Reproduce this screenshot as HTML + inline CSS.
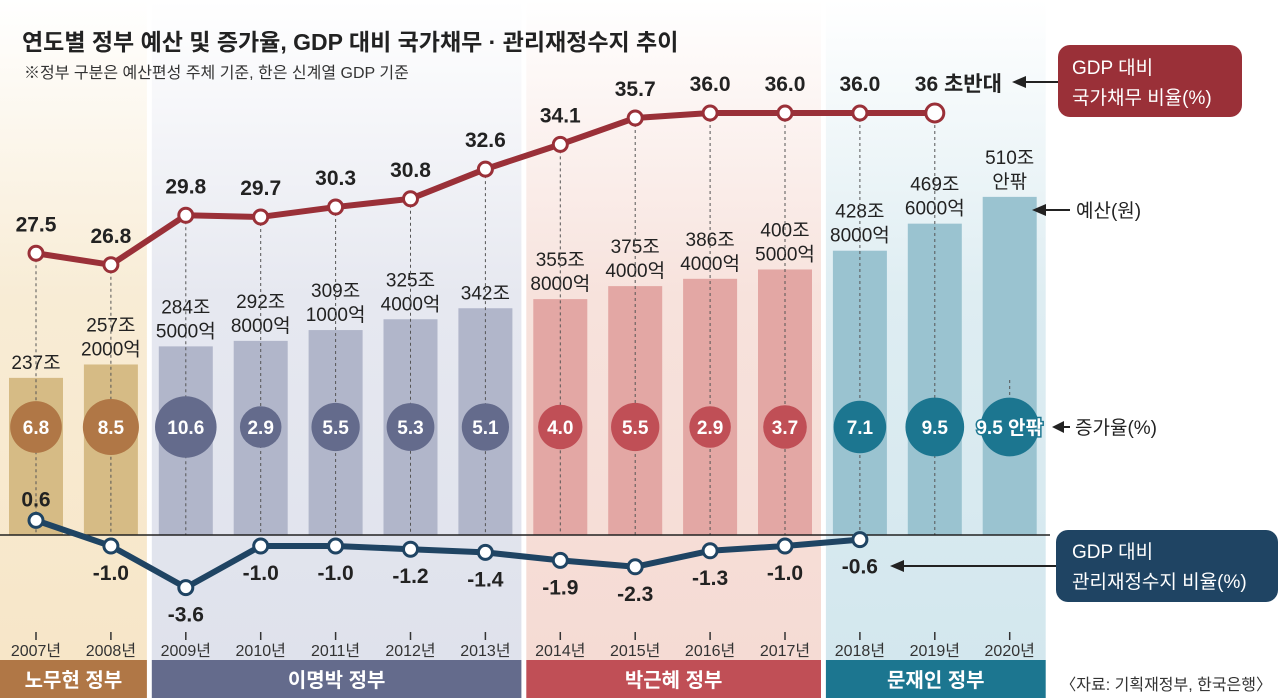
<!DOCTYPE html>
<html><head><meta charset="utf-8"><style>
body{margin:0;background:#fff;}
svg{display:block;font-family:"Liberation Sans","Noto Sans CJK KR",sans-serif;}
.n{font-family:"Liberation Sans Narrow","Liberation Sans","Noto Sans CJK KR",sans-serif;}
</style></head><body>
<svg id="c" width="1280" height="698" viewBox="0 0 1280 698">
<defs>
<linearGradient id="g1" x1="0" y1="0" x2="0" y2="1"><stop offset="0" stop-color="#fff"/><stop offset="0.45" stop-color="#f8ecd5"/><stop offset="1" stop-color="#f7e6c8"/></linearGradient>
<linearGradient id="g2" x1="0" y1="0" x2="0" y2="1"><stop offset="0" stop-color="#fff"/><stop offset="0.45" stop-color="#e6e8f0"/><stop offset="1" stop-color="#dfe2ec"/></linearGradient>
<linearGradient id="g3" x1="0" y1="0" x2="0" y2="1"><stop offset="0" stop-color="#fff"/><stop offset="0.45" stop-color="#f7e2dc"/><stop offset="1" stop-color="#f5dbd4"/></linearGradient>
<linearGradient id="g4" x1="0" y1="0" x2="0" y2="1"><stop offset="0" stop-color="#fff"/><stop offset="0.45" stop-color="#deedf2"/><stop offset="1" stop-color="#d3e7ee"/></linearGradient>
</defs>
<g id="bg"></g>
<text x="22" y="50" font-size="23" font-weight="bold" fill="#222">연도별 정부 예산 및 증가율, GDP 대비 국가채무 · 관리재정수지 추이</text>
<text x="24" y="78" font-size="16" fill="#333">※정부 구분은 예산편성 주체 기준, 한은 신계열 GDP 기준</text>
<g id="marks"></g>
<g>
<rect x="1058" y="45" width="184" height="72" rx="12" fill="#9a3038"/>
<text x="1072" y="74" font-size="19" fill="#fff">GDP 대비</text>
<text x="1072" y="104" font-size="19" fill="#fff">국가채무 비율(%)</text>
<line x1="1058" y1="82" x2="1022" y2="82" stroke="#222" stroke-width="2"/>
<path d="M1012 82 L1026 76 L1026 88Z" fill="#222"/>
</g>
<g>
<line x1="1070" y1="210" x2="1042" y2="210" stroke="#222" stroke-width="2"/>
<path d="M1032 210 L1046 204 L1046 216Z" fill="#222"/>
<text x="1076" y="217" font-size="19" fill="#222">예산(원)</text>
</g>
<g>
<line x1="1070" y1="427" x2="1062" y2="427" stroke="#222" stroke-width="2"/>
<path d="M1052 427 L1064 421 L1064 433Z" fill="#222"/>
<text x="1075" y="434" font-size="19" fill="#222">증가율(%)</text>
</g>
<g>
<rect x="1056" y="530" width="222" height="72" rx="12" fill="#1f4463"/>
<text x="1072" y="558" font-size="19" fill="#fff">GDP 대비</text>
<text x="1072" y="588" font-size="19" fill="#fff">관리재정수지 비율(%)</text>
<line x1="1056" y1="566" x2="900" y2="566" stroke="#222" stroke-width="2"/>
<path d="M890 566 L904 560 L904 572Z" fill="#222"/>
</g>
<text x="1272" y="690" font-size="16" fill="#333" text-anchor="end">〈자료: 기획재정부, 한국은행〉</text>
</svg>
<script>
const years=['2007','2008','2009','2010','2011','2012','2013','2014','2015','2016','2017','2018','2019','2020'];
const budget=[237,257.2,284.5,292.8,309.1,325.4,342,355.8,375.4,386.4,400.5,428.8,469.6,510];
const budgetL1=['237조','257조','284조','292조','309조','325조','342조','355조','375조','386조','400조','428조','469조','510조'];
const budgetL2=['','2000억','5000억','8000억','1000억','4000억','','8000억','4000억','4000억','5000억','8000억','6000억','안팎'];
const growth=[6.8,8.5,10.6,2.9,5.5,5.3,5.1,4.0,5.5,2.9,3.7,7.1,9.5,9.5];
const growthLabels=['6.8','8.5','10.6','2.9','5.5','5.3','5.1','4.0','5.5','2.9','3.7','7.1','9.5','9.5 안팎'];
const debt=[27.5,26.8,29.8,29.7,30.3,30.8,32.6,34.1,35.7,36.0,36.0,36.0,36.0];
const debtLabels=['27.5','26.8','29.8','29.7','30.3','30.8','32.6','34.1','35.7','36.0','36.0','36.0','36 초반대'];
const balance=[0.6,-1.0,-3.6,-1.0,-1.0,-1.2,-1.4,-1.9,-2.3,-1.3,-1.0,-0.6];
const govs=['노무현 정부','이명박 정부','박근혜 정부','문재인 정부'];
const govStart=[0,2,7,11];
const govEnd=[1,6,10,13];
const NS='http://www.w3.org/2000/svg';
const X=i=>36+i*74.9;
const yBud=v=>535-v*0.663;
const yDebt=v=>113+(36-v)*16.5;
const yBal=v=>530-v*16;
const rG=v=>17+1.3*v;
function mk(p,t,a){const e=document.createElementNS(NS,t);for(const k in a)e.setAttribute(k,a[k]);p.appendChild(e);return e;}
const bg=document.getElementById('bg'),m=document.getElementById('marks');
const dark=['#b07746','#646b8c','#c04f56','#1c7690'];
const barC=['#d6bb85','#b1b6ca','#e3a7a4','#9ac3d0'];
const grads=['url(#g1)','url(#g2)','url(#g3)','url(#g4)'];
const govOf=i=>govStart.findIndex((s,k)=>i>=s&&i<=govEnd[k]);
govs.forEach((g,k)=>{
 const x0=k==0?0:X(govStart[k])-36+2, x1=X(govEnd[k])+36;
 const r=mk(bg,'rect',{x:x0,y:0,width:x1-x0,height:660,fill:grads[k]});
 
 
 const b=mk(m,'rect',{x:x0,y:660,width:x1-x0,height:38,fill:dark[k]});
 
 
 const t=mk(m,'text',{x:(x0+x1)/2,y:687,'font-size':20,'font-weight':'bold',fill:'#fff','text-anchor':'middle'});t.textContent=g;
 
 
});
years.forEach((y,i)=>{
 const g=govOf(i),x=X(i);
 const b=mk(m,'rect',{x:x-27,y:yBud(budget[i]),width:54,height:535-yBud(budget[i]),fill:barC[g]});
 
 
 const top=yBud(budget[i]);
 const two=budgetL2[i]!=='';
 const t1=mk(m,'text',{class:'n',x:x,y:two?top-33:top-9,'font-size':19,fill:'#222','text-anchor':'middle'});t1.textContent=budgetL1[i];
 
 
 if(two){const t2=mk(m,'text',{class:'n',x:x,y:top-9,'font-size':19,fill:'#222','text-anchor':'middle'});t2.textContent=budgetL2[i];
 
 }
 const ys=i<debt.length?yDebt(debt[i]):380;
 const ye=i<debt.length?535:400;
 mk(m,'line',{x1:x,y1:ys,x2:x,y2:ye,stroke:'#555','stroke-dasharray':'3 3','stroke-width':1});
 mk(m,'line',{x1:x,y1:632,x2:x,y2:640,stroke:'#333','stroke-width':1.5});
 const yt=mk(m,'text',{class:'n',x:x,y:656,'font-size':16,fill:'#333','text-anchor':'middle'});yt.textContent=y+'년';
 
 
 const c=mk(m,'circle',{cx:x,cy:427,r:rG(growth[i]),fill:dark[g]});
 
 
 const gt=mk(m,'text',{x:x,y:434,'font-size':19,'font-weight':'bold',fill:'#fff','text-anchor':'middle'});gt.textContent=growthLabels[i];
 if(i==13){gt.setAttribute('stroke','#1c7690');gt.setAttribute('stroke-width','3');gt.setAttribute('paint-order','stroke');}
 
 
});
mk(m,'line',{x1:0,y1:535,x2:1050,y2:535,stroke:'#222','stroke-width':1.5});
mk(m,'polyline',{points:debt.map((v,i)=>X(i)+','+yDebt(v)).join(' '),fill:'none',stroke:'#9a3038','stroke-width':6,'stroke-linejoin':'round'});
debt.forEach((v,i)=>{
 const c=mk(m,'circle',{cx:X(i),cy:yDebt(v),r:i==12?9:7,fill:'#fff',stroke:'#9a3038','stroke-width':3});
 
 
 const t=mk(m,'text',{x:i==12?X(i)-20:X(i),y:yDebt(v)-22,'font-size':21,'font-weight':'bold',fill:'#222','text-anchor':i==12?'start':'middle'});t.textContent=debtLabels[i];
 
 
});
mk(m,'polyline',{points:balance.map((v,i)=>X(i)+','+yBal(v)).join(' '),fill:'none',stroke:'#1f4463','stroke-width':6,'stroke-linejoin':'round'});
balance.forEach((v,i)=>{
 const c=mk(m,'circle',{cx:X(i),cy:yBal(v),r:7,fill:'#fff',stroke:'#1f4463','stroke-width':3});
 
 
 const t=mk(m,'text',{x:X(i),y:i==0?yBal(v)-14:yBal(v)+34,'font-size':21,'font-weight':'bold',fill:'#222','text-anchor':'middle'});t.textContent=v.toFixed(1);
 
 
});
</script>
</body></html>
